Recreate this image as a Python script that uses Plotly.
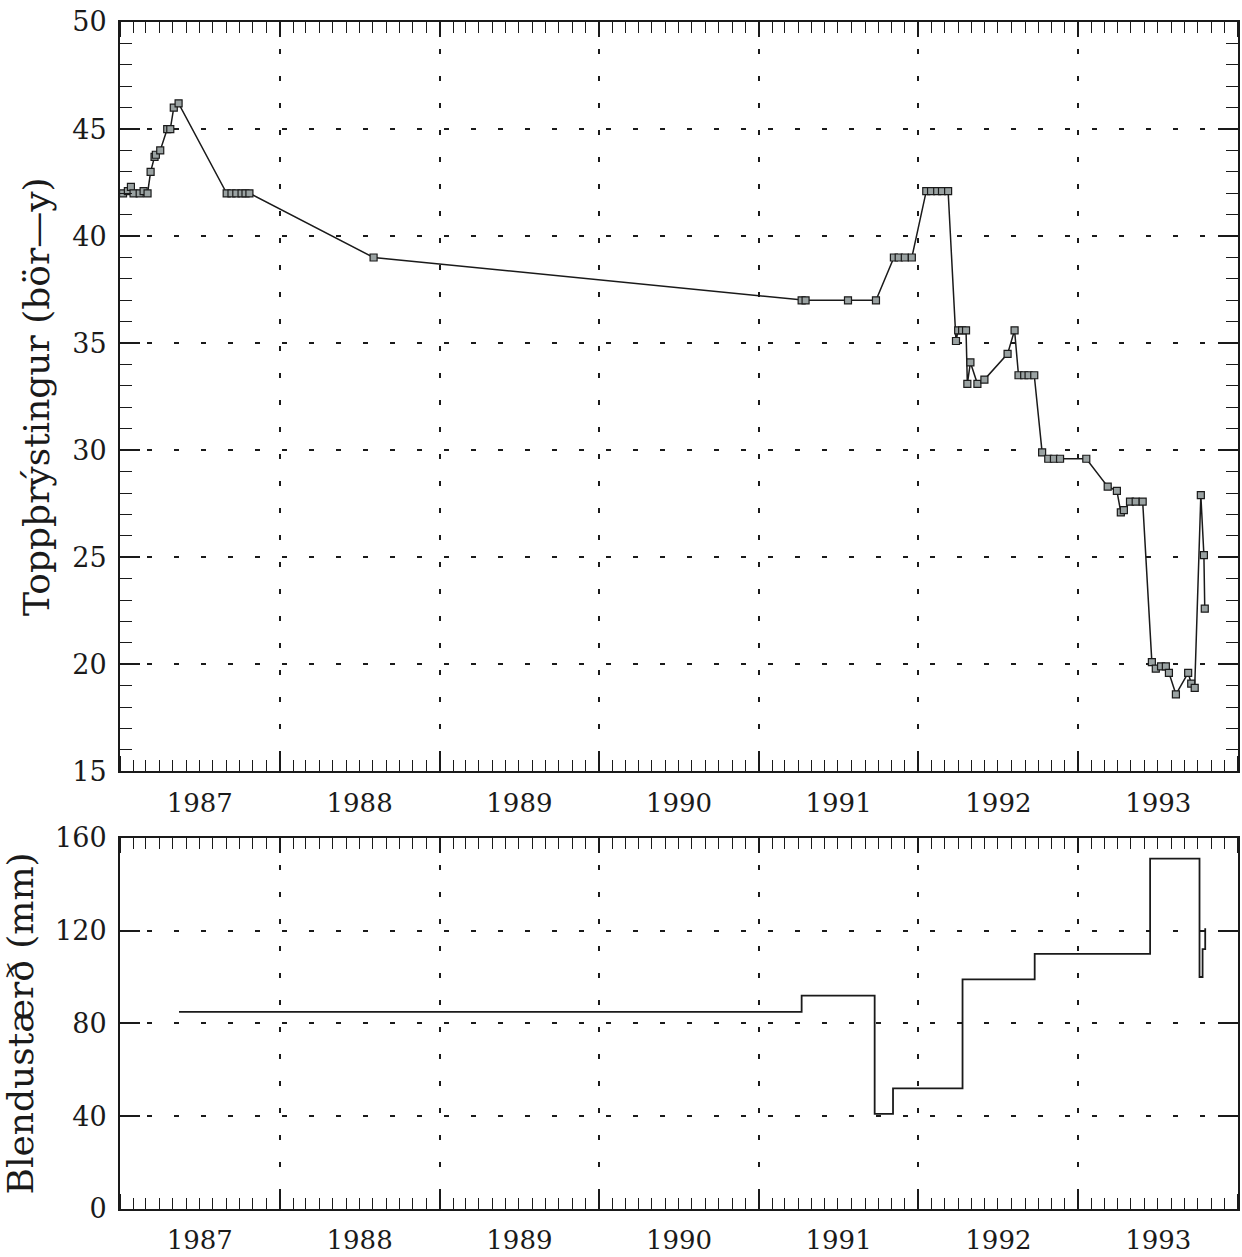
import plotly.graph_objects as go

# ---- data: top panel (top pressure, bar-g) ----
dates_top = [
    "1987-01-08", "1987-01-19", "1987-01-26", "1987-02-01", "1987-02-15", "1987-02-24",
    "1987-03-05", "1987-03-12", "1987-03-21", "1987-03-24", "1987-04-03", "1987-04-19",
    "1987-04-26", "1987-05-04", "1987-05-15", "1987-09-02", "1987-09-13", "1987-09-24",
    "1987-10-06", "1987-10-15", "1987-10-24", "1988-08-03", "1991-04-09", "1991-04-18",
    "1991-07-24", "1991-09-26", "1991-11-06", "1991-11-17", "1991-12-01", "1991-12-17",
    "1992-01-19", "1992-01-30", "1992-02-13", "1992-02-24", "1992-03-09", "1992-03-27",
    "1992-04-01", "1992-04-10", "1992-04-19", "1992-04-22", "1992-04-29", "1992-05-15",
    "1992-05-31", "1992-07-23", "1992-08-08", "1992-08-17", "1992-08-30", "1992-09-09",
    "1992-09-22", "1992-10-10", "1992-10-24", "1992-11-06", "1992-11-20", "1993-01-19",
    "1993-03-09", "1993-03-30", "1993-04-08", "1993-04-15", "1993-04-29", "1993-05-12",
    "1993-05-28", "1993-06-18", "1993-06-27", "1993-07-09", "1993-07-20", "1993-07-27",
    "1993-08-12", "1993-09-09", "1993-09-16", "1993-09-24", "1993-10-08", "1993-10-15",
    "1993-10-17",
]
pressure = [
    42.0, 42.1, 42.3, 42.0, 42.0, 42.1,
    42.0, 43.0, 43.7, 43.8, 44.0, 45.0,
    45.0, 46.0, 46.2, 42.0, 42.0, 42.0,
    42.0, 42.0, 42.0, 39.0, 37.0, 37.0,
    37.0, 37.0, 39.0, 39.0, 39.0, 39.0,
    42.1, 42.1, 42.1, 42.1, 42.1, 35.1,
    35.6, 35.6, 35.6, 33.1, 34.1, 33.1,
    33.3, 34.5, 35.6, 33.5, 33.5, 33.5,
    33.5, 29.9, 29.6, 29.6, 29.6, 29.6,
    28.3, 28.1, 27.1, 27.2, 27.6, 27.6,
    27.6, 20.1, 19.8, 19.9, 19.9, 19.6,
    18.6, 19.6, 19.1, 18.9, 27.9, 25.1,
    22.6,
]

# ---- data: bottom panel (choke size, mm), step changes ----
dates_choke = [
    "1987-05-16", "1991-04-09", "1991-09-23", "1991-11-04", "1992-04-11",
    "1992-09-23", "1993-06-14", "1993-10-05", "1993-10-12", "1993-10-18",
]
choke = [85, 92, 41, 52, 99, 110, 151, 100, 112, 121]

y_title_top = "Toppþrýstingur (bör—y)"
y_title_bot = "Blendustærð (mm)"

FONT = "DejaVu Serif"
INK = "#1a1a1a"
DASH = "5px,22px"

fig = go.Figure()
fig.add_trace(go.Scatter(
    x=dates_top, y=pressure, mode="lines+markers",
    line=dict(color=INK, width=1.5),
    marker=dict(symbol="square", size=7, color="#9aa2a2", line=dict(color=INK, width=1.2)),
    xaxis="x", yaxis="y", showlegend=False,
))
fig.add_trace(go.Scatter(
    x=dates_choke, y=choke, mode="lines",
    line=dict(color=INK, width=1.8, shape="hv"),
    xaxis="x2", yaxis="y2", showlegend=False,
))

def xax(anchor):
    return dict(
        type="date", range=["1987-01-01", "1994-01-01"], anchor=anchor,
        tick0="1987-01-01", dtick="M12", tickformat="%Y", ticklabelmode="period",
        ticks="inside", ticklen=15, tickwidth=1.5, tickcolor=INK,
        showline=True, linecolor=INK, linewidth=2, mirror="ticks",
        showgrid=True, gridcolor=INK, gridwidth=1.6, griddash=DASH,
        minor=dict(dtick="M1", ticks="inside", ticklen=11, tickwidth=1.3,
                   tickcolor=INK, showgrid=False),
        tickfont=dict(family=FONT, size=26, color=INK),
        ticklabelstandoff=7, zeroline=False, domain=[0, 1],
    )

def yax(anchor, rng, dtick, domain, title, standoff, minor=None):
    d = dict(
        range=rng, tick0=rng[0], dtick=dtick, anchor=anchor, domain=domain,
        ticks="inside", ticklen=20, tickwidth=1.5, tickcolor=INK,
        showline=True, linecolor=INK, linewidth=2, mirror="ticks",
        showgrid=True, gridcolor=INK, gridwidth=1.6, griddash=DASH,
        tickfont=dict(family=FONT, size=27, color=INK),
        ticklabelstandoff=6, zeroline=False,
        title=dict(text=title, font=dict(family=FONT, size=36, color=INK), standoff=standoff),
    )
    if minor:
        d["minor"] = minor
    return d

fig.update_layout(
    width=1242, height=1257,
    margin=dict(l=120, r=2, t=22, b=39),
    paper_bgcolor="white", plot_bgcolor="white",
    xaxis=xax("y"),
    xaxis2=xax("y2"),
    yaxis=yax("x", [15, 50], 5, [0.3687, 1.0], y_title_top, 12,
              minor=dict(dtick=1, ticks="inside", ticklen=12, tickwidth=1.3,
                         tickcolor=INK, showgrid=False)),
    yaxis2=yax("x2", [0, 160], 40, [0.0, 0.3127], y_title_bot, 10),
)

fig.write_html("out.html")
